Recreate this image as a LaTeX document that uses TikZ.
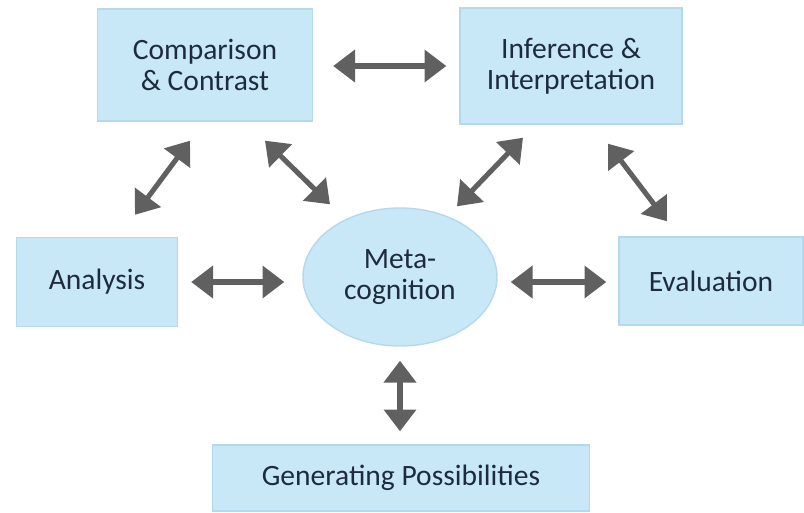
\documentclass[tikz,border=0pt]{standalone}
\usepackage{fontspec}
\setmainfont{Carlito}
\usetikzlibrary{arrows.meta,calc,shapes.geometric}
\definecolor{boxblue}{HTML}{C8E8F8}
\definecolor{boxedge}{HTML}{B4D8EC}
\definecolor{arrowgrey}{HTML}{606060}
\definecolor{textnavy}{HTML}{1E2B3C}
\tikzset{
  skillnode/.style = {align=center, inner sep=0pt, text centered,
    font=\fontsize{21}{22}\selectfont, text=textnavy},
  skillbox/.style = {skillnode, rectangle, fill=boxblue, draw=boxedge,
    line width=1pt},% carre bleu
  metanode/.style = {skillnode, ellipse, fill=boxblue, draw=boxedge,
    line width=1pt, minimum width=194*0.025cm, minimum height=138*0.025cm},% ellipse centrale
  linkarrow/.style = {arrowgrey, line width=3.6pt}
}

\begin{document}
\begin{tikzpicture}[x=0.025cm,y=-0.025cm,<->,
  >={Triangle[length=15.5pt,width=22.5pt]}]
\useasboundingbox (0,0) rectangle (804,513);
\node [skillbox, minimum width=215*0.025cm, minimum height=112*0.025cm]
  (comp) at (205,65) {Comparison\\\& Contrast};
\node [skillbox, minimum width=222*0.025cm, minimum height=116*0.025cm]
  (infer) at (571,66) {Inference \&\\Interpretation};
\node [skillbox, minimum width=161*0.025cm, minimum height=89*0.025cm]
  (analysis) at (97,282) {Analysis};
\node [skillbox, minimum width=184*0.025cm, minimum height=88*0.025cm]
  (eval) at (711,281) {Evaluation};
\node [metanode] (meta) at (400,277) {Meta-\\cognition};
\node [skillbox, minimum width=377*0.025cm, minimum height=66*0.025cm]
  (gen) at (401,478) {Generating Possibilities};

\draw [linkarrow] ($(comp.east)+(20,1)$) -- ($(infer.west)+(-13,0)$);
\draw [linkarrow] ($(comp.south)+(-15,19)$) -- ($(analysis.north)+(38,-22)$);
\draw [linkarrow] ($(comp.south)+(60,19)$) -- ($(meta.north)+(-70,-3)$);
\draw [linkarrow] ($(infer.south)+(-48,13)$) -- ($(meta.north)+(57,-1)$);
\draw [linkarrow] ($(infer.south)+(37,19)$) -- ($(eval.north)+(-44,-15)$);
\draw [linkarrow] ($(analysis.east)+(13,0)$) -- ($(meta.west)+(-18,5)$);
\draw [linkarrow] ($(meta.east)+(13,5)$) -- ($(eval.west)+(-12,1)$);
\draw [linkarrow] ($(meta.south)+(0,14)$) -- ($(gen.north)+(-1,-13)$);
\end{tikzpicture}
\end{document}
